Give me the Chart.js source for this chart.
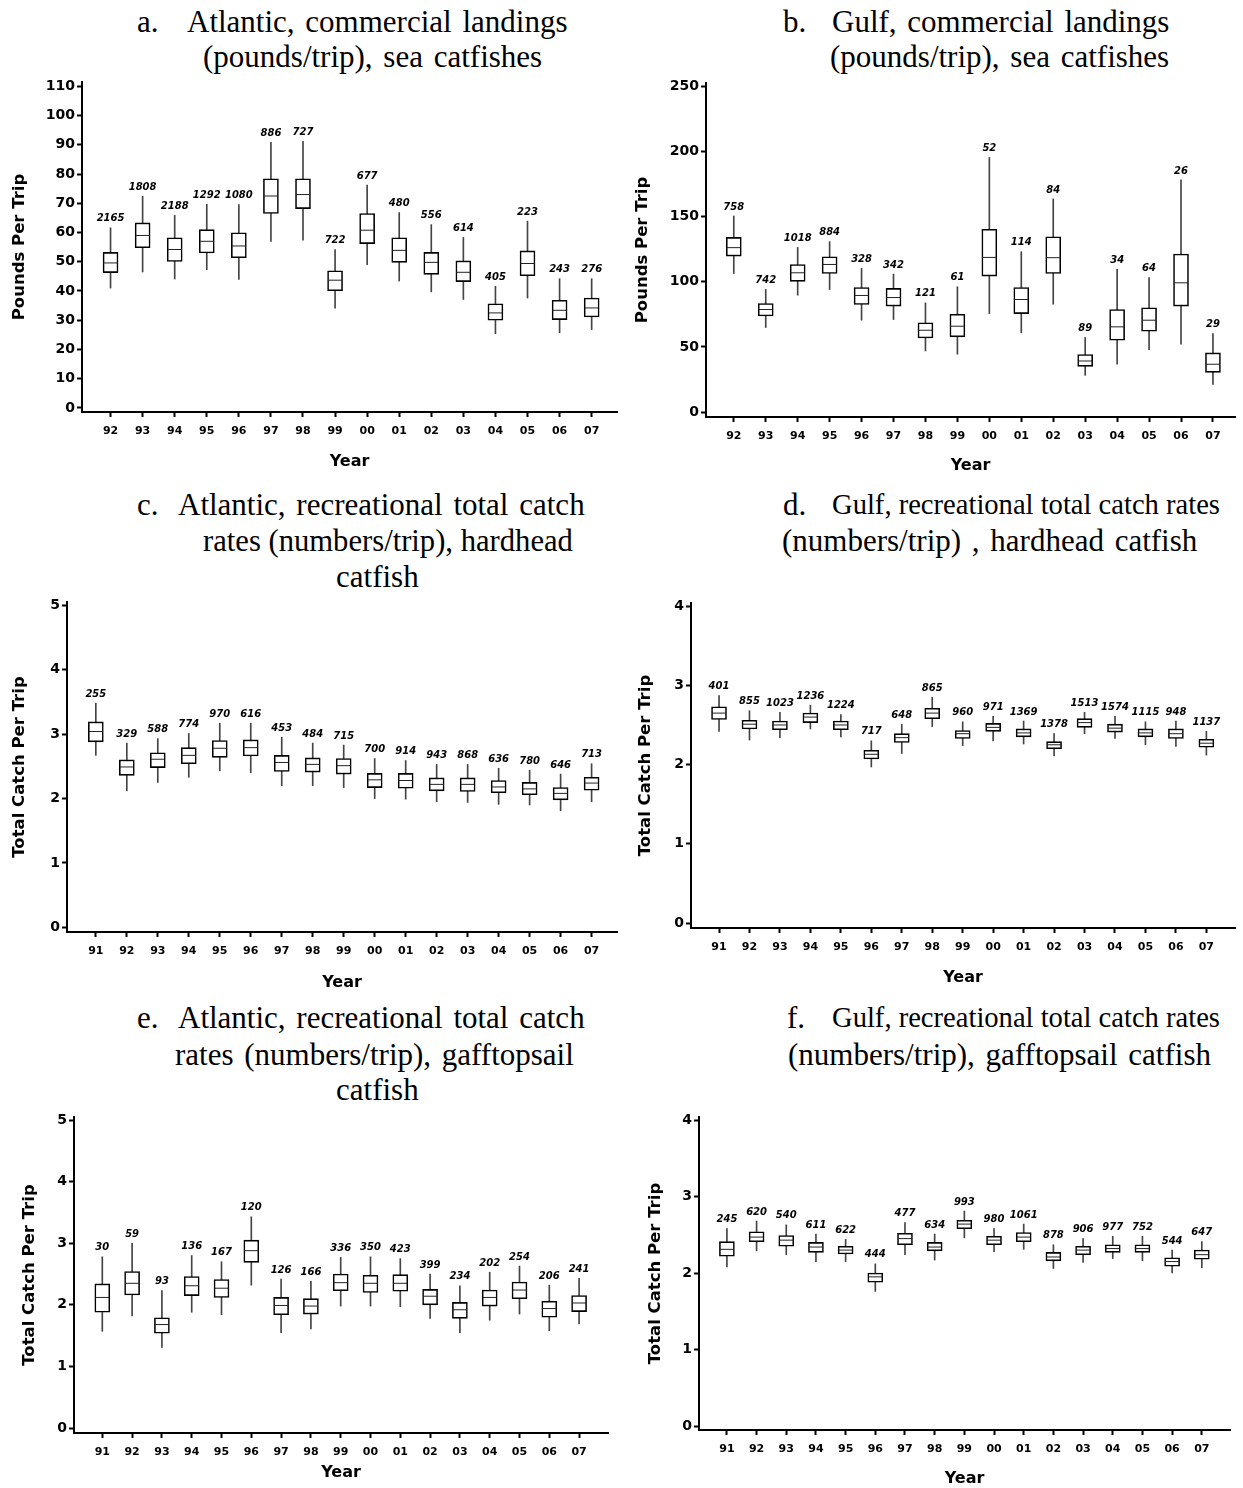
<!DOCTYPE html>
<html>
<head>
<meta charset="utf-8">
<script src="https://cdn.jsdelivr.net/npm/chart.js@4.4.0/dist/chart.umd.min.js"></script>
<style>
  body { margin: 0; background: #fff; width: 1243px; height: 1488px; position: relative; overflow: hidden; }
  .t { position: absolute; font-family: "Liberation Serif", "Times New Roman", serif; font-size: 31px; line-height: 36px; white-space: pre; color: #000; }
  .p { position: absolute; }
  .p canvas { position: absolute; left: 0; top: 0; }
</style>
</head>
<body>
<div class="t" style="left:137px;top:4px">a.</div>
<div class="t" style="left:187px;top:4px" data-r="573">Atlantic, commercial landings</div>
<div class="t" style="left:203px;top:39px" data-r="551">(pounds/trip), sea catfishes</div>

<div class="t" style="left:783px;top:4px">b.</div>
<div class="t" style="left:832px;top:4px" data-r="1175">Gulf, commercial landings</div>
<div class="t" style="left:830px;top:39px" data-r="1176">(pounds/trip), sea catfishes</div>

<div class="t" style="left:137px;top:487px">c.</div>
<div class="t" style="left:178px;top:487px" data-r="585">Atlantic, recreational total catch</div>
<div class="t" style="left:203px;top:523px" data-r="573">rates (numbers/trip), hardhead</div>
<div class="t" style="left:336px;top:559px">catfish</div>

<div class="t" style="left:783px;top:487px">d.</div>
<div class="t" style="left:832px;top:487px" data-r="1220">Gulf, recreational total catch rates</div>
<div class="t" style="left:782px;top:523px" data-r="1213">(numbers/trip) , hardhead catfish</div>

<div class="t" style="left:137px;top:1000px">e.</div>
<div class="t" style="left:178px;top:1000px" data-r="585">Atlantic, recreational total catch</div>
<div class="t" style="left:175px;top:1037px" data-r="585">rates (numbers/trip), gafftopsail</div>
<div class="t" style="left:336px;top:1072px">catfish</div>

<div class="t" style="left:787px;top:1000px">f.</div>
<div class="t" style="left:832px;top:1000px" data-r="1220">Gulf, recreational total catch rates</div>
<div class="t" style="left:788px;top:1037px" data-r="1220">(numbers/trip), gafftopsail catfish</div>

<div class="p" id="pa"></div>
<div class="p" id="pb"></div>
<div class="p" id="pc"></div>
<div class="p" id="pd"></div>
<div class="p" id="pe"></div>
<div class="p" id="pf"></div>

<script>
// years
const yrs92 = ['92','93','94','95','96','97','98','99','00','01','02','03','04','05','06','07'];
const yrs91 = ['91','92','93','94','95','96','97','98','99','00','01','02','03','04','05','06','07'];

// a. Atlantic commercial, pounds/trip
const aLo  = [41.0, 46.5, 44.1, 47.3, 44.0, 57.0, 57.4, 34.1, 49.0, 43.4, 39.7, 37.1, 25.4, 37.6, 25.7, 26.8];
const aQ1  = [46.3, 54.8, 50.1, 53.0, 51.4, 66.5, 68.2, 40.1, 56.2, 49.8, 45.7, 43.2, 30.0, 45.2, 30.2, 31.1];
const aMed = [49.6, 59.0, 54.2, 57.0, 55.4, 72.5, 73.0, 43.7, 60.8, 53.9, 49.8, 46.4, 32.5, 49.4, 33.4, 34.2];
const aQ3  = [53.2, 63.3, 58.2, 61.0, 59.9, 78.4, 78.4, 46.9, 66.5, 58.2, 53.2, 50.3, 35.6, 53.7, 36.8, 37.6];
const aHi  = [61.6, 72.4, 65.9, 69.7, 69.6, 90.9, 91.2, 54.2, 76.2, 66.8, 62.7, 58.3, 41.6, 63.9, 44.2, 44.2];
const aN   = ['2165','1808','2188','1292','1080','886','727','722','677','480','556','614','405','223','243','276'];
const aTicks = [0, 10, 20, 30, 40, 50, 60, 70, 80, 90, 100, 110];

// b. Gulf commercial, pounds/trip
const bLo  = [106.4, 64.9, 89.7, 94.1, 70.5, 71.0, 46.9, 44.4, 75.6, 60.8, 82.8, 28.2, 36.7, 47.9, 52.1, 21.3];
const bQ1  = [119.7, 73.8, 100.3, 106.4, 82.6, 81.3, 56.9, 57.7, 104.4, 75.6, 106.4, 35.1, 55.1, 62.1, 81.3, 30.5];
const bMed = [126.2, 78.7, 106.9, 113.3, 89.5, 87.9, 62.8, 65.9, 118.7, 86.4, 118.5, 39.2, 65.4, 70.5, 99.2, 36.7];
const bQ3  = [134.1, 83.3, 113.3, 119.2, 95.6, 94.9, 68.5, 75.1, 140.3, 95.6, 134.6, 44.1, 78.7, 80.0, 121.3, 45.4];
const bHi  = [150.5, 94.1, 126.4, 130.8, 110.3, 105.9, 83.8, 96.2, 195.4, 123.1, 163.6, 57.2, 109.5, 103.3, 178.2, 60.3];
const bN   = ['758','742','1018','884','328','342','121','61','52','114','84','89','34','64','26','29'];
const bTicks = [0, 50, 100, 150, 200, 250];

// c. Atlantic recreational, hardhead catfish
const cLo  = [2.67, 2.12, 2.25, 2.33, 2.43, 2.40, 2.20, 2.20, 2.17, 2.00, 1.99, 1.95, 1.94, 1.91, 1.90, 1.81, 1.95];
const cQ1  = [2.88, 2.36, 2.48, 2.54, 2.64, 2.66, 2.42, 2.41, 2.38, 2.17, 2.16, 2.12, 2.11, 2.09, 2.06, 1.98, 2.13];
const cMed = [3.04, 2.49, 2.61, 2.67, 2.78, 2.79, 2.56, 2.53, 2.51, 2.29, 2.28, 2.22, 2.22, 2.18, 2.15, 2.08, 2.24];
const cQ3  = [3.19, 2.60, 2.71, 2.79, 2.90, 2.91, 2.67, 2.63, 2.62, 2.39, 2.39, 2.32, 2.32, 2.28, 2.25, 2.17, 2.33];
const cHi  = [3.48, 2.86, 2.93, 3.01, 3.17, 3.17, 2.95, 2.86, 2.83, 2.62, 2.59, 2.53, 2.53, 2.47, 2.44, 2.38, 2.54];
const cN   = ['255','329','588','774','970','616','453','484','715','700','914','943','868','636','780','646','713'];
const cTicks = [0, 1, 2, 3, 4, 5];

// d. Gulf recreational, hardhead catfish
const dLo  = [2.42, 2.31, 2.34, 2.45, 2.35, 1.97, 2.14, 2.48, 2.24, 2.30, 2.26, 2.11, 2.39, 2.33, 2.25, 2.23, 2.12];
const dQ1  = [2.57, 2.45, 2.44, 2.53, 2.44, 2.07, 2.28, 2.58, 2.33, 2.42, 2.35, 2.20, 2.47, 2.41, 2.35, 2.33, 2.22];
const dMed = [2.65, 2.51, 2.50, 2.60, 2.50, 2.13, 2.34, 2.65, 2.39, 2.47, 2.40, 2.25, 2.53, 2.46, 2.40, 2.39, 2.27];
const dQ3  = [2.73, 2.56, 2.55, 2.65, 2.55, 2.18, 2.39, 2.71, 2.43, 2.52, 2.45, 2.29, 2.58, 2.51, 2.45, 2.45, 2.32];
const dHi  = [2.87, 2.68, 2.66, 2.75, 2.63, 2.30, 2.51, 2.85, 2.54, 2.61, 2.55, 2.39, 2.66, 2.61, 2.54, 2.55, 2.42];
const dN   = ['401','855','1023','1236','1224','717','648','865','960','971','1369','1378','1513','1574','1115','948','1137'];
const dTicks = [0, 1, 2, 3, 4];

// e. Atlantic recreational, gafftopsail catfish
const eLo  = [1.57, 1.82, 1.31, 1.88, 1.84, 2.32, 1.55, 1.61, 1.98, 1.98, 1.97, 1.78, 1.55, 1.75, 1.85, 1.58, 1.69];
const eQ1  = [1.88, 2.16, 1.54, 2.15, 2.12, 2.69, 1.84, 1.85, 2.23, 2.20, 2.22, 2.00, 1.78, 1.98, 2.10, 1.80, 1.89];
const eMed = [2.12, 2.35, 1.68, 2.31, 2.27, 2.88, 1.99, 1.98, 2.36, 2.35, 2.35, 2.14, 1.92, 2.12, 2.24, 1.94, 2.03];
const eQ3  = [2.34, 2.54, 1.79, 2.46, 2.41, 3.05, 2.12, 2.10, 2.50, 2.48, 2.49, 2.25, 2.04, 2.24, 2.37, 2.06, 2.15];
const eHi  = [2.78, 3.00, 2.23, 2.80, 2.70, 3.43, 2.42, 2.38, 2.77, 2.78, 2.75, 2.50, 2.31, 2.53, 2.63, 2.32, 2.43];
const eN   = ['30','59','93','136','167','120','126','166','336','350','423','399','234','202','254','206','241'];
const eTicks = [0, 1, 2, 3, 4, 5];

// f. Gulf recreational, gafftopsail catfish
const fLo  = [2.08, 2.29, 2.24, 2.15, 2.15, 1.76, 2.24, 2.17, 2.46, 2.28, 2.31, 2.06, 2.14, 2.19, 2.16, 2.00, 2.07];
const fQ1  = [2.22, 2.41, 2.35, 2.27, 2.25, 1.88, 2.37, 2.29, 2.58, 2.37, 2.41, 2.16, 2.24, 2.27, 2.27, 2.09, 2.18];
const fMed = [2.31, 2.47, 2.43, 2.34, 2.30, 1.95, 2.45, 2.34, 2.64, 2.43, 2.47, 2.21, 2.30, 2.32, 2.32, 2.15, 2.24];
const fQ3  = [2.41, 2.54, 2.49, 2.40, 2.35, 2.00, 2.52, 2.40, 2.69, 2.48, 2.53, 2.27, 2.35, 2.37, 2.37, 2.20, 2.30];
const fHi  = [2.58, 2.68, 2.63, 2.51, 2.44, 2.12, 2.66, 2.51, 2.81, 2.58, 2.64, 2.37, 2.45, 2.48, 2.48, 2.30, 2.41];
const fN   = ['245','620','540','611','622','444','477','634','993','980','1061','878','906','977','752','544','647'];
const fTicks = [0, 1, 2, 3, 4];

const FONT = '"DejaVu Sans", "Liberation Sans", Arial, sans-serif';

// fit the caption lines to the width they take in the figure (small word-spacing only)
document.querySelectorAll('.t[data-r]').forEach(el => {
    const left = parseFloat(el.style.left);
    const target = +el.dataset.r - left;
    const w = el.getBoundingClientRect().width;
    const spaces = (el.textContent.match(/ /g) || []).length;
    if (w > target) {
        el.style.fontSize = (31 * target / w).toFixed(2) + 'px';
    } else if (spaces) {
        el.style.wordSpacing = Math.min(3, (target - w) / spaces).toFixed(2) + 'px';
    }
});

// sample size above each upper whisker
const countLabels = {
    id: 'countLabels',
    afterDatasetsDraw(chart, args, opts) {
        const {ctx, scales: {x, y}} = chart;
        ctx.save();
        ctx.font = 'italic bold 10px ' + FONT;
        ctx.fillStyle = '#000';
        ctx.textAlign = 'center';
        ctx.textBaseline = 'bottom';
        opts.labels.forEach((t, i) => {
            ctx.fillText(t, x.getPixelForValue(i), y.getPixelForValue(opts.tops[i]) - 4);
        });
        ctx.restore();
    }
};

function boxPanel(id, g, years, lo, q1, med, q3, hi, counts, yTicks, yTitle) {
    const wrap = document.getElementById(id);
    wrap.style.left = g.cx + 'px';
    wrap.style.top = g.cy + 'px';
    wrap.style.width = g.cw + 'px';
    wrap.style.height = g.ch + 'px';
    const canvas = document.createElement('canvas');
    canvas.width = g.cw;
    canvas.height = g.ch;
    wrap.appendChild(canvas);

    const idx = years.map((_, i) => i);
    const axisGrid = { drawOnChartArea: false, drawTicks: true, tickLength: 5, tickWidth: 2, tickColor: '#000', offset: false };
    const axisBorder = { display: true, color: '#000', width: 2 };

    new Chart(canvas, {
        type: 'bar',
        data: {
            datasets: [
                {
                    type: 'line',
                    data: idx.map(i => ({x: i, y: med[i]})),
                    showLine: false,
                    pointStyle: 'line',
                    pointRadius: 7,
                    pointHoverRadius: 7,
                    pointBorderWidth: 1,
                    pointBorderColor: '#222',
                    order: 0
                },
                {
                    data: idx.map(i => ({x: i, y: [q1[i], q3[i]]})),
                    backgroundColor: '#fff',
                    borderColor: '#000',
                    borderWidth: 1.6,
                    borderSkipped: false,
                    barThickness: 15,
                    grouped: false,
                    order: 1
                },
                {
                    data: idx.map(i => ({x: i, y: [lo[i], hi[i]]})),
                    backgroundColor: '#444',
                    borderWidth: 0,
                    barThickness: 1,
                    grouped: false,
                    order: 2
                }
            ]
        },
        options: {
            responsive: false,
            animation: false,
            devicePixelRatio: 1,
            events: [],
            layout: {
                padding: { left: 0, top: g.plotT - g.cy, right: g.cx + g.cw - g.plotR, bottom: 0 }
            },
            plugins: {
                legend: { display: false },
                tooltip: { enabled: false },
                countLabels: { labels: counts, tops: hi }
            },
            scales: {
                x: {
                    type: 'linear',
                    min: g.xmin,
                    max: g.xmax,
                    offset: false,
                    grid: axisGrid,
                    border: axisBorder,
                    afterBuildTicks: s => { s.ticks = idx.map(v => ({value: v})); },
                    afterFit: s => { s.height = g.cy + g.ch - g.plotB; },
                    ticks: {
                        color: '#000',
                        padding: 8,
                        maxRotation: 0,
                        autoSkip: false,
                        font: { family: FONT, size: 11, weight: 'bold' },
                        callback: v => years[v]
                    },
                    title: {
                        display: true,
                        text: 'Year',
                        color: '#000',
                        font: { family: FONT, size: 16, weight: 'bold' },
                        padding: { top: 0, bottom: g.cy + g.ch - g.yearY - 9.6 }
                    }
                },
                y: {
                    min: g.ymin,
                    max: g.ymax,
                    grid: axisGrid,
                    border: axisBorder,
                    afterBuildTicks: s => { s.ticks = yTicks.map(v => ({value: v})); },
                    afterFit: s => { s.width = g.plotL - g.cx; },
                    ticks: {
                        color: '#000',
                        padding: 2,
                        font: { family: FONT, size: 14, weight: 'bold' },
                        callback: v => String(v)
                    },
                    title: {
                        display: true,
                        text: yTitle,
                        color: '#000',
                        font: { family: FONT, size: 16.5, weight: 'bold' },
                        padding: { top: g.yTitleX - g.cx - 9.9, bottom: 0 }
                    }
                }
            }
        },
        plugins: [countLabels]
    });
}

boxPanel('pa', {cx: 0, cy: 66, cw: 625, ch: 414, plotL: 82, plotR: 618, plotT: 82, plotB: 412,
    ymin: -1.4, ymax: 111.5, xmin: -0.89, xmax: 15.79, yearY: 462, yTitleX: 20},
    yrs92, aLo, aQ1, aMed, aQ3, aHi, aN, aTicks, 'Pounds Per Trip');

boxPanel('pb', {cx: 625, cy: 66, cw: 618, ch: 418, plotL: 706, plotR: 1243, plotT: 83, plotB: 417,
    ymin: -3.8, ymax: 252.6, xmin: -0.87, xmax: 15.69, yearY: 466, yTitleX: 643},
    yrs92, bLo, bQ1, bMed, bQ3, bHi, bN, bTicks, 'Pounds Per Trip');

boxPanel('pc', {cx: 0, cy: 585, cw: 625, ch: 410, plotL: 67, plotR: 618, plotT: 602, plotB: 932,
    ymin: -0.071, ymax: 5.05, xmin: -0.93, xmax: 16.82, yearY: 983, yTitleX: 20},
    yrs91, cLo, cQ1, cMed, cQ3, cHi, cN, cTicks, 'Total Catch Per Trip');

boxPanel('pd', {cx: 625, cy: 585, cw: 618, ch: 410, plotL: 691, plotR: 1240, plotT: 603, plotB: 928,
    ymin: -0.063, ymax: 4.04, xmin: -0.92, xmax: 16.94, yearY: 978, yTitleX: 646},
    yrs91, dLo, dQ1, dMed, dQ3, dHi, dN, dTicks, 'Total Catch Per Trip');

boxPanel('pe', {cx: 0, cy: 1100, cw: 625, ch: 388, plotL: 74, plotR: 608, plotT: 1117, plotB: 1433,
    ymin: -0.081, ymax: 5.05, xmin: -0.95, xmax: 16.97, yearY: 1473, yTitleX: 30},
    yrs91, eLo, eQ1, eMed, eQ3, eHi, eN, eTicks, 'Total Catch Per Trip');

boxPanel('pf', {cx: 625, cy: 1100, cw: 618, ch: 388, plotL: 699, plotR: 1230, plotT: 1117, plotB: 1430,
    ymin: -0.052, ymax: 4.04, xmin: -0.94, xmax: 16.95, yearY: 1479, yTitleX: 656},
    yrs91, fLo, fQ1, fMed, fQ3, fHi, fN, fTicks, 'Total Catch Per Trip');
</script>
</body>
</html>
